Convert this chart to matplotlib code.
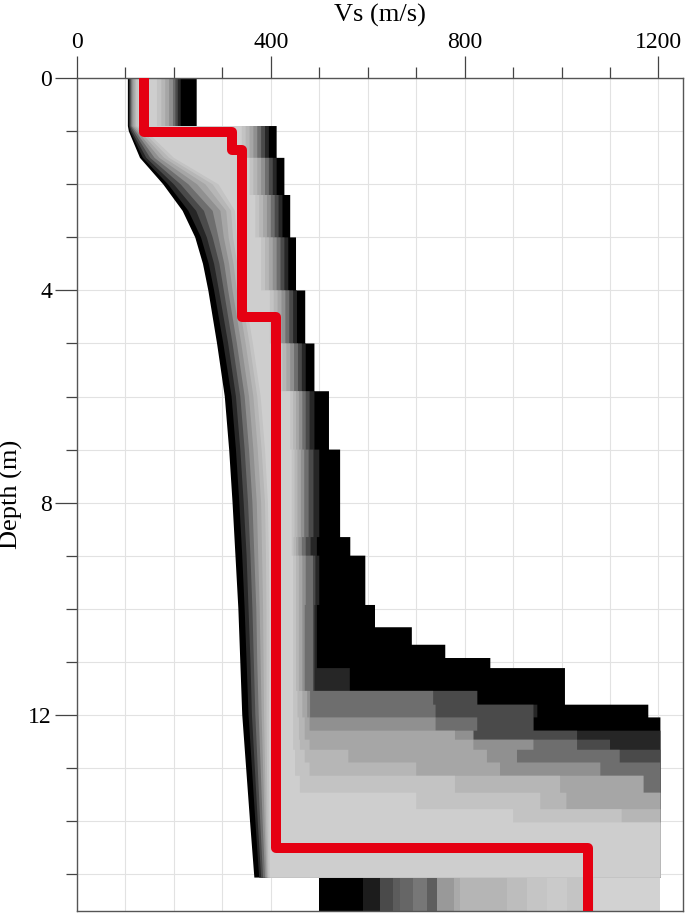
import matplotlib
matplotlib.use('Agg')
import matplotlib.pyplot as plt
from matplotlib.ticker import MultipleLocator

plt.rcParams['font.family'] = ['Liberation Serif', 'DejaVu Serif']

# Misfit bands, worst (black) drawn first, best (light gray) on top.
band_colors = ['#000000', '#262626', '#4a4a4a', '#6e6e6e', '#909090',
               '#a6a6a6', '#b6b6b6', '#c3c3c3', '#cecece']

# slow (left) edge of each band, Vs in m/s at these depths
depth_left = [0.0, 0.9, 1.0, 1.5, 2.0, 2.5, 3.0, 3.5, 4.0, 5.0,
              6.0, 7.0, 8.0, 9.0, 10.0, 11.0, 12.0, 13.0, 14.0, 15.07]
left_edges = [
    [105, 105, 107, 130, 178, 218, 244, 260, 271, 289, 305, 314, 321, 327, 333, 337, 341, 349, 357, 366],
    [107, 107, 110, 136, 188, 230, 256, 272, 283, 302, 319, 328, 335, 341, 346, 350, 354, 361, 368, 376],
    [109, 109, 113, 143, 200, 246, 268, 283, 293, 312, 328, 337, 344, 350, 354, 358, 361, 367, 373, 380],
    [111, 111, 117, 151, 214, 262, 280, 294, 303, 321, 337, 346, 353, 358, 362, 365, 368, 373, 378, 384],
    [113, 113, 121, 160, 230, 280, 292, 304, 312, 330, 346, 355, 362, 366, 370, 372, 375, 379, 383, 388],
    [116, 116, 125, 170, 248, 296, 303, 314, 321, 339, 355, 364, 371, 374, 377, 379, 381, 384, 387, 391],
    [119, 119, 130, 180, 265, 308, 313, 323, 330, 348, 364, 373, 380, 382, 384, 385, 386, 388, 390, 393],
    [122, 122, 136, 190, 280, 318, 322, 331, 338, 356, 372, 381, 388, 390, 391, 391, 391, 392, 393, 395],
    [126, 126, 143, 200, 292, 326, 330, 338, 345, 363, 379, 388, 394, 396, 397, 397, 396, 396, 397, 398],
]

# fast (right) edge of each band, layered (value holds from this depth to the next)
depth_right = [0.0, 0.9, 1.5, 2.2, 3.0, 4.0, 5.0, 5.9, 7.0, 8.65, 9.0, 9.93, 10.35, 10.68,
               10.93, 11.12, 11.55, 11.81, 12.05, 12.3, 12.47, 12.66, 12.9, 13.15, 13.47,
               13.78, 14.03, 14.35]
right_edges = [
    [247, 412, 428, 440, 452, 471, 490, 520, 543, 564, 595, 615, 691, 760, 853, 1007, 1007, 1179, 1204, 1204, 1204, 1204, 1204, 1204, 1204, 1204, 1204, 1204],
    [214, 396, 412, 424, 436, 454, 472, 490, 500, 495, 500, 495, 495, 495, 495, 563, 826, 950, 942, 1204, 1204, 1204, 1204, 1204, 1204, 1204, 1204, 1204],
    [208, 388, 404, 416, 428, 446, 464, 480, 488, 482, 492, 490, 490, 490, 490, 490, 826, 942, 942, 1032, 1100, 1204, 1204, 1204, 1204, 1204, 1204, 1204],
    [203, 380, 396, 408, 420, 438, 456, 472, 478, 472, 487, 487, 487, 487, 487, 487, 735, 740, 826, 818, 1032, 1120, 1204, 1204, 1204, 1204, 1204, 1204],
    [198, 372, 388, 400, 412, 430, 448, 465, 469, 464, 472, 470, 470, 470, 470, 470, 481, 481, 740, 818, 942, 908, 1080, 1169, 1204, 1204, 1204, 1204],
    [190, 364, 380, 392, 404, 422, 440, 458, 462, 457, 465, 465, 465, 465, 465, 465, 475, 475, 480, 780, 818, 846, 873, 1169, 1204, 1204, 1204, 1204],
    [182, 356, 372, 384, 396, 414, 432, 452, 455, 452, 458, 458, 458, 458, 458, 458, 465, 465, 470, 470, 480, 560, 700, 997, 1010, 1204, 1204, 1204],
    [174, 348, 364, 376, 388, 406, 424, 446, 449, 447, 452, 452, 452, 452, 452, 452, 455, 455, 458, 458, 460, 470, 480, 780, 956, 1124, 1204, 1204],
    [165, 340, 356, 368, 380, 398, 416, 440, 443, 443, 446, 446, 446, 446, 446, 446, 446, 446, 446, 446, 446, 450, 450, 460, 700, 900, 1204, 1204],
]
band_bottom = 15.07
depth_max = 15.7

# half-space velocities of the profiles (stripes below the layered part)
halfspace_edges = [500, 591, 626, 653, 667, 694, 722, 743, 777, 791, 887, 928, 970,
                   1011, 1045, 1066, 1204]
halfspace_colors = ['#000000', '#1c1c1c', '#4a4a4a', '#5c5c5c', '#666666', '#777777',
                    '#5e5e5e', '#999999', '#aaaaaa', '#b5b5b5', '#bdbdbd', '#c5c5c5',
                    '#cacaca', '#c4c4c4', '#cccccc', '#d2d2d2']

# best-fit profile
best_depth = [0.0, 1.02, 1.35, 4.5, 14.51, depth_max]
best_vs = [139, 320, 340, 410, 1055]

fig = plt.figure(figsize=(6.85, 9.13), dpi=100)
ax = fig.add_axes([77 / 685, 2 / 913, 605.7 / 685, 832.7 / 913])

for color, lv, rv in zip(band_colors, left_edges, right_edges):
    xs, ys = [], []
    for v, d0, d1 in zip(rv, depth_right, depth_right[1:] + [band_bottom]):
        xs += [v, v]
        ys += [d0, d1]
    xs += lv[::-1]
    ys += depth_left[::-1]
    ax.fill(xs, ys, color=color, lw=0, zorder=2)

for v0, v1, c in zip(halfspace_edges[:-1], halfspace_edges[1:], halfspace_colors):
    ax.fill_betweenx([band_bottom, depth_max], v0, v1, color=c, lw=0, zorder=2)

ax.stairs(best_vs, best_depth, orientation='horizontal', baseline=None,
          color='#e50012', linewidth=7.2, joinstyle='round', zorder=5)

ax.set_xlim(0, 1250)
ax.set_ylim(depth_max, 0)
ax.xaxis.tick_top()
ax.xaxis.set_label_position('top')
ax.xaxis.set_major_locator(MultipleLocator(400))
ax.xaxis.set_minor_locator(MultipleLocator(100))
ax.yaxis.set_major_locator(MultipleLocator(4))
ax.yaxis.set_minor_locator(MultipleLocator(1))
ax.tick_params(which='both', direction='out', color='#444444', width=0.9,
               labelsize=17, top=True, bottom=False, left=True, right=False, pad=2)
ax.tick_params(which='major', length=16)
ax.tick_params(which='minor', length=8)
ax.set_axisbelow(True)
ax.grid(which='both', color='#e2e2e2', linewidth=0.8)
for s in ax.spines.values():
    s.set_color('#555555')
    s.set_linewidth(1.0)

ax.set_xlabel('Vs (m/s)', fontsize=19, labelpad=8)
ax.set_ylabel('Depth (m)', fontsize=19, labelpad=4)

fig.savefig('out.png', dpi=100)
